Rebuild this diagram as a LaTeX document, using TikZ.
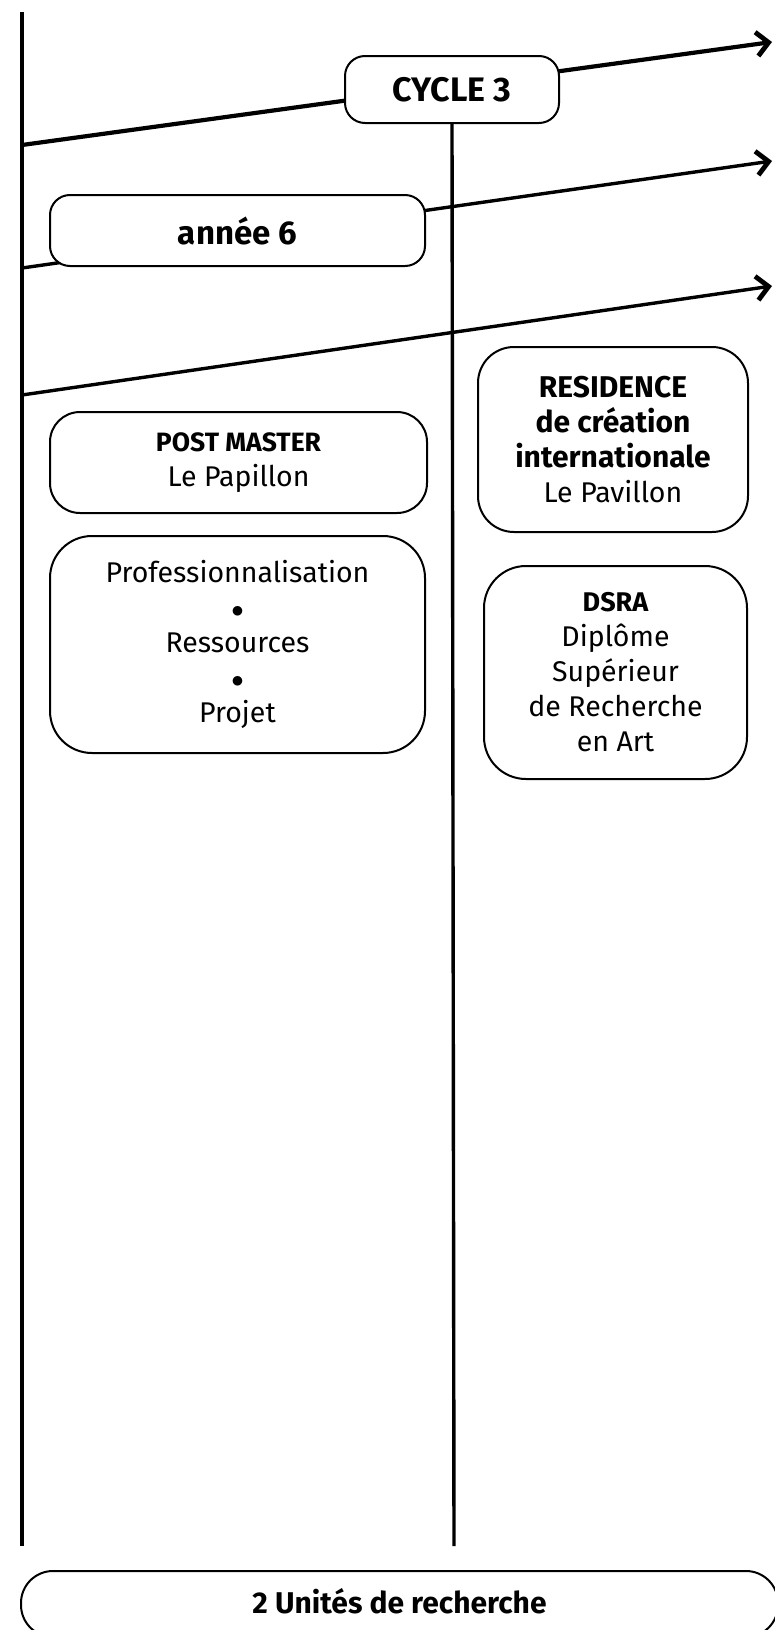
\documentclass[tikz,border=0pt]{standalone}
\usepackage{fontspec}
\setmainfont{Fira Sans}
\usetikzlibrary{arrows.meta}

\tikzset{
	boite/.style={draw, line width=2pt, fill=white, rounded corners=#1, align=center, inner sep=0pt},
	boite/.default=20pt,
	fleche/.style={line width=3.4pt, -{Straight Barb[length=12pt, width=24pt, line width=4.8pt]}},
	axe/.style={line width=3.4pt}
}

\begin{document}
\begin{tikzpicture}[x=1pt, y=-1pt, font=\fontsize{28.5}{35}\selectfont]
	\useasboundingbox (0,0) rectangle (775,1630);
	\clip (0,0) rectangle (775,1630);
	% axes
	\coordinate (gh) at (22,12);
	\coordinate (gb) at (22,1546);
	\coordinate (mb) at (454,1546);
	\draw[axe] (gh)--(gb);
	% fleches
	\coordinate (a1) at (22,145);
	\coordinate (b1) at (772,42);
	\coordinate (a2) at (22,268);
	\coordinate (b2) at (772,161);
	\coordinate (a3) at (22,395);
	\coordinate (b3) at (772,286);
	\draw[fleche, line width=4.2pt] (a1)--(b1);
	\draw[fleche] (a2)--(b2);
	\draw[fleche] (a3)--(b3);
	% boites
	\node[boite, minimum width=214pt, minimum height=67pt] (cycle) at (452,89.5) {\fontsize{34}{40}\selectfont\bfseries CYCLE 3};
	\draw[axe] (cycle.south)--(mb);
	\node[boite, minimum width=375pt, minimum height=71pt] (annee) at (237.5,230.5) {\fontsize{33}{40}\selectfont\bfseries année 6};
	\node[boite=30pt, minimum width=377pt, minimum height=101pt] (post) at (238.5,462.5) {{\fontsize{26.5}{34}\selectfont\bfseries POST MASTER}\\Le Papillon};
	\node[boite=42pt, minimum width=375pt, minimum height=217pt] (pro) at (237.5,644.5) {Professionnalisation\\$\bullet$\\Ressources\\$\bullet$\\Projet};
	\node[boite=36pt, minimum width=270pt, minimum height=185pt] (resid) at (613,439.5) {\fontsize{30}{34}\selectfont\bfseries RESIDENCE\\\fontsize{30}{34}\selectfont\bfseries de création\\\fontsize{30}{34}\selectfont\bfseries internationale\\Le Pavillon};
	\node[boite=42pt, minimum width=263pt, minimum height=213pt] (dsra) at (615.5,672.5) {{\fontsize{27}{35}\selectfont\bfseries DSRA}\\Diplôme\\Supérieur\\de Recherche\\en Art};
	\node[boite=32pt, minimum width=757pt, minimum height=66pt] (unites) at (399.5,1604) {\raisebox{6pt}{\fontsize{30}{36}\selectfont\bfseries 2 Unités de recherche}};
\end{tikzpicture}
\end{document}
